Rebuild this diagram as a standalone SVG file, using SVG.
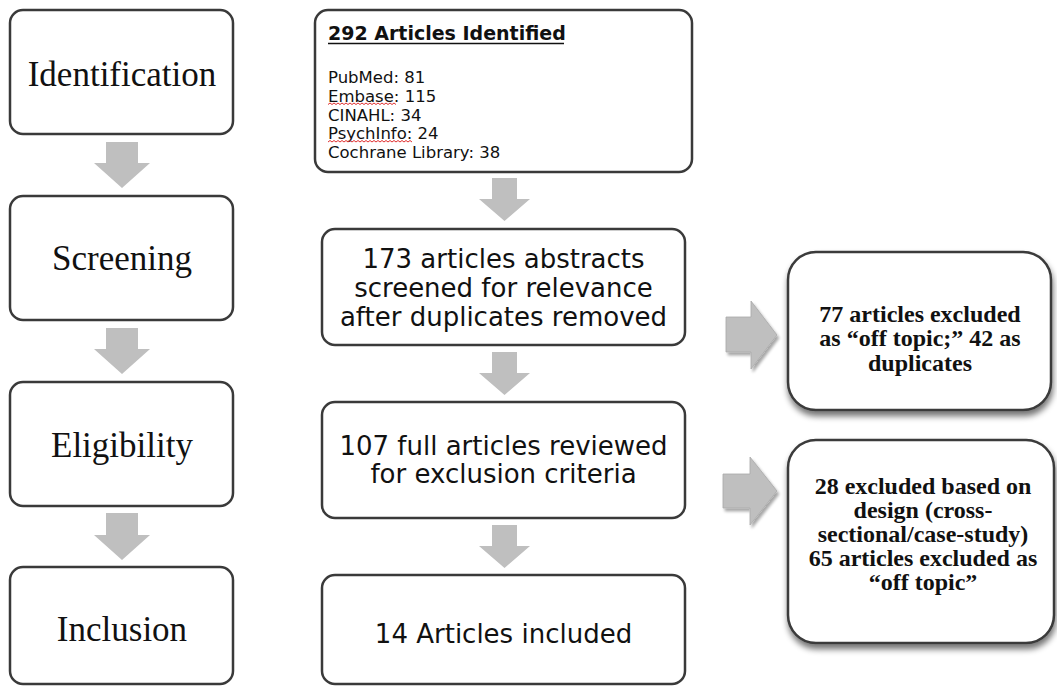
<svg xmlns="http://www.w3.org/2000/svg" width="1057" height="687" viewBox="0 0 1057 687">
<defs>
<style>
.box{fill:#fff;stroke:#3a3a3a;stroke-width:2.5}
.stage{font-family:"Liberation Serif","Times New Roman",serif;font-size:35px;fill:#111;text-anchor:middle}
.mid{font-family:"DejaVu Sans","Lucida Grande",sans-serif;font-size:26px;fill:#111;text-anchor:middle}
.list{font-family:"DejaVu Sans","Lucida Grande",sans-serif;font-size:16.5px;fill:#111}
.title{font-family:"DejaVu Sans","Lucida Grande",sans-serif;font-size:19px;font-weight:bold;fill:#111}
.excl{font-family:"Liberation Serif","Times New Roman",serif;font-size:24px;font-weight:bold;fill:#111;text-anchor:middle}
.arrow{fill:#bfbfbf}
.squig{fill:none;stroke:#e03030;stroke-width:1}
</style>
<filter id="shadow" x="-10%" y="-10%" width="125%" height="130%">
<feGaussianBlur in="SourceAlpha" stdDeviation="3"/>
<feOffset dx="1" dy="5" result="b"/>
<feComponentTransfer><feFuncA type="linear" slope="0.55"/></feComponentTransfer>
<feMerge><feMergeNode/><feMergeNode in="SourceGraphic"/></feMerge>
</filter>
<filter id="ashadow" x="-20%" y="-20%" width="150%" height="150%">
<feGaussianBlur in="SourceAlpha" stdDeviation="1.5"/>
<feOffset dx="2" dy="3"/>
<feComponentTransfer><feFuncA type="linear" slope="0.35"/></feComponentTransfer>
<feMerge><feMergeNode/><feMergeNode in="SourceGraphic"/></feMerge>
</filter>
</defs>
<rect width="1057" height="687" fill="#fff"/>

<g id="identification">
<rect class="box" x="10" y="10" width="223" height="124" rx="13"/>
<text class="stage" x="122" y="86">Identification</text>
</g>
<g id="screening">
<rect class="box" x="10" y="196" width="223" height="124" rx="13"/>
<text class="stage" x="122" y="270">Screening</text>
</g>
<g id="eligibility">
<rect class="box" x="10" y="382" width="223" height="124" rx="13"/>
<text class="stage" x="122" y="457">Eligibility</text>
</g>
<g id="inclusion">
<rect class="box" x="10" y="567" width="223" height="117" rx="13"/>
<text class="stage" x="122" y="641">Inclusion</text>
</g>

<g id="identified">
<rect class="box" x="315" y="10" width="377" height="162" rx="13"/>
<text class="title" x="328" y="40">292 Articles Identified</text>
<line x1="328" y1="43.5" x2="564" y2="43.5" stroke="#111" stroke-width="1.5"/>
<text class="list" x="328" y="83">PubMed: 81</text>
<text class="list" x="328" y="101.75">Embase: 115</text>
<text class="list" x="328" y="120.5">CINAHL: 34</text>
<text class="list" x="328" y="139.25">PsychInfo: 24</text>
<text class="list" x="328" y="158">Cochrane Library: 38</text>
<path class="squig" d="M328,104.5 l2,-1.5 l2,1.5 l2,-1.5 l2,1.5 l2,-1.5 l2,1.5 l2,-1.5 l2,1.5 l2,-1.5 l2,1.5 l2,-1.5 l2,1.5 l2,-1.5 l2,1.5 l2,-1.5 l2,1.5 l2,-1.5 l2,1.5 l2,-1.5 l2,1.5 l2,-1.5 l2,1.5 l2,-1.5 l2,1.5 l2,-1.5 l2,1.5 l2,-1.5 l2,1.5 l2,-1.5 l2,1.5 l2,-1.5 l2,1.5 l2,-1.5 l2,1.5"/>
<path class="squig" d="M328,142 l2,-1.5 l2,1.5 l2,-1.5 l2,1.5 l2,-1.5 l2,1.5 l2,-1.5 l2,1.5 l2,-1.5 l2,1.5 l2,-1.5 l2,1.5 l2,-1.5 l2,1.5 l2,-1.5 l2,1.5 l2,-1.5 l2,1.5 l2,-1.5 l2,1.5 l2,-1.5 l2,1.5 l2,-1.5 l2,1.5 l2,-1.5 l2,1.5 l2,-1.5 l2,1.5 l2,-1.5 l2,1.5 l2,-1.5 l2,1.5 l2,-1.5 l2,1.5 l2,-1.5 l2,1.5 l2,-1.5 l2,1.5 l2,-1.5 l2,1.5 l2,-1.5 l2,1.5"/>
</g>

<g id="screened">
<rect class="box" x="322" y="229" width="363" height="116" rx="13"/>
<text class="mid" x="503.5" y="268">173 articles abstracts</text>
<text class="mid" x="503.5" y="297">screened for relevance</text>
<text class="mid" x="503.5" y="326">after duplicates removed</text>
</g>
<g id="reviewed">
<rect class="box" x="322" y="402" width="363" height="116" rx="13"/>
<text class="mid" x="503.5" y="455">107 full articles reviewed</text>
<text class="mid" x="503.5" y="483">for exclusion criteria</text>
</g>
<g id="included">
<rect class="box" x="322" y="575" width="363" height="109" rx="13"/>
<text class="mid" x="503.5" y="643">14 Articles included</text>
</g>

<g id="excluded1">
<rect class="box" x="788" y="252" width="263" height="158" rx="28" filter="url(#shadow)"/>
<text class="excl" x="920" y="322">77 articles excluded</text>
<text class="excl" x="920" y="346">as “off topic;” 42 as</text>
<text class="excl" x="920" y="371">duplicates</text>
</g>
<g id="excluded2">
<rect class="box" x="788" y="440" width="266" height="203" rx="28" filter="url(#shadow)"/>
<text class="excl" x="923" y="494">28 excluded based on</text>
<text class="excl" x="923" y="518">design (cross-</text>
<text class="excl" x="923" y="542">sectional/case-study)</text>
<text class="excl" x="923" y="566">65 articles excluded as</text>
<text class="excl" x="923" y="590">“off topic”</text>
</g>

<g id="connectors">
<polygon class="arrow" points="106,142 138,142 138,163 150,163 122,188 94,163 106,163"/>
<polygon class="arrow" points="106,328 138,328 138,349 150,349 122,374 94,349 106,349"/>
<polygon class="arrow" points="106,513 138,513 138,535 150,535 122,560 94,535 106,535"/>
<polygon class="arrow" points="492,178 517,178 517,199 530,199 504.5,221 479,199 492,199"/>
<polygon class="arrow" points="492,352 517,352 517,373 530,373 504.5,395 479,373 492,373"/>
<polygon class="arrow" points="492,525 517,525 517,546 530,546 504.5,568 479,546 492,546"/>
<polygon class="arrow" points="726,317 751,317 751,301 777,335 751,369 751,352 726,352" filter="url(#ashadow)" stroke="#aaa" stroke-width="0.8"/>
<polygon class="arrow" points="723,474 750,474 750,457 777,491 750,525 750,508 723,508" filter="url(#ashadow)" stroke="#aaa" stroke-width="0.8"/>
</g>
</svg>
